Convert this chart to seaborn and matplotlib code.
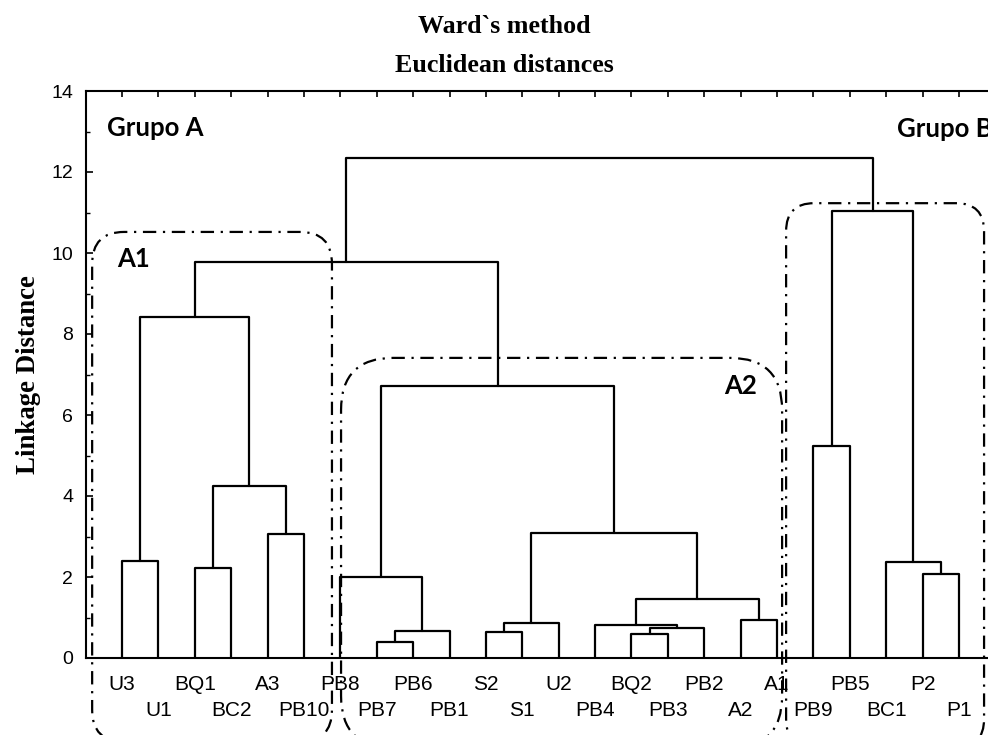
import numpy as np
import pandas as pd
import matplotlib
matplotlib.use("Agg")
import matplotlib.pyplot as plt
import seaborn as sns
from matplotlib.patches import FancyBboxPatch

# ---------------- data ----------------
leaves = ['U3', 'U1', 'BQ1', 'BC2', 'A3', 'PB10', 'PB8', 'PB7', 'PB6', 'PB1',
          'S2', 'S1', 'U2', 'PB4', 'BQ2', 'PB3', 'PB2', 'A2', 'A1',
          'PB9', 'PB5', 'BC1', 'P2', 'P1']
merge_left = ['U3', 'BQ1', 'A3', 'm1', 'm0', 'PB7', 'm5', 'PB8', 'S2', 'm8',
              'BQ2', 'm10', 'PB4', 'A2', 'm12', 'm9', 'm7', 'm4', 'PB9', 'P2',
              'BC1', 'm18', 'm17']
merge_right = ['U1', 'BC2', 'PB10', 'm2', 'm3', 'PB6', 'PB1', 'm6', 'S1', 'U2',
               'PB3', 'PB2', 'm11', 'A1', 'm13', 'm14', 'm15', 'm16', 'PB5', 'P1',
               'm19', 'm20', 'm21']
merge_height = [2.40, 2.22, 3.06, 4.25, 8.42, 0.40, 0.67, 2.00, 0.64, 0.86,
                0.59, 0.75, 0.81, 0.94, 1.46, 3.08, 6.72, 9.78, 5.23, 2.07,
                2.37, 11.04, 12.35]
y_ticks = [0, 2, 4, 6, 8, 10, 12, 14]

# ---------------- build dendrogram links ----------------
nodes = {name: (i + 1.0, 0.0) for i, name in enumerate(leaves)}
rows = []
for i, (l, r, h) in enumerate(zip(merge_left, merge_right, merge_height)):
    xl, hl = nodes[l]
    xr, hr = nodes[r]
    for px, py in [(xl, hl), (xl, h), (xr, h), (xr, hr)]:
        rows.append({"link": i, "x": px, "y": py})
    nodes[f"m{i}"] = ((xl + xr) / 2.0, h)
df = pd.DataFrame(rows)

# ---------------- figure ----------------
sns.set_style("white")
plt.rcParams["font.family"] = ["Liberation Sans", "DejaVu Sans"]
plt.rcParams["text.color"] = "black"
plt.rcParams["axes.labelcolor"] = "black"
plt.rcParams["xtick.color"] = "black"
plt.rcParams["ytick.color"] = "black"
plt.rcParams["axes.edgecolor"] = "black"

W, H = 988, 735
fig = plt.figure(figsize=(W / 100, H / 100), dpi=100)
ax_left, ax_bottom = 85.6, 77.0
unit_x, unit_y = 36.39, 40.5
ax = fig.add_axes([ax_left / W, ax_bottom / H, 25 * unit_x / W, 14 * unit_y / H])

sns.lineplot(data=df, x="x", y="y", units="link", estimator=None, sort=False,
             color="black", linewidth=1.6, ax=ax, legend=False)

ax.set_xlim(0, 25)
ax.set_ylim(0, 14)
ax.set_xlabel("")

# x ticks: two rows of labels
ax.set_xticks(np.arange(1, 25, 2))
ax.set_xticklabels(leaves[0::2])
ax.set_xticks(np.arange(2, 25, 2), minor=True)
ax.set_xticklabels(leaves[1::2], minor=True)
ax.tick_params(axis="x", which="both", bottom=False, top=True, direction="in",
               length=4, width=1.2, labelsize=15, colors="black")
ax.tick_params(axis="x", which="major", pad=12)
ax.tick_params(axis="x", which="minor", pad=31)

# y ticks
ax.set_yticks(y_ticks)
ax.set_yticks(np.arange(1, 14, 2), minor=True)
ax.tick_params(axis="y", which="major", left=True, right=False, direction="in",
               length=5, width=1.2, pad=9, labelsize=14, colors="black")
ax.tick_params(axis="y", which="minor", left=True, right=False, direction="in",
               length=3, width=1.0, colors="black")

for s in ["left", "top", "bottom"]:
    ax.spines[s].set_linewidth(1.5)
    ax.spines[s].set_color("black")
ax.spines["right"].set_visible(False)

ax.set_ylabel("Linkage Distance", fontfamily=["Liberation Serif"],
              fontweight="bold", fontsize=19.3, color="black")
ax.yaxis.set_label_coords((29 - ax_left) / (25 * unit_x), 0.5)
ax.yaxis.label.set_va("center")

# titles
fig.text(504 / W, 1 - 33 / H, "Ward`s method", ha="center", va="baseline",
         fontfamily=["Liberation Serif"], fontweight="bold", fontsize=18.7,
         color="black")
fig.text(504 / W, 1 - 72 / H, "Euclidean distances", ha="center", va="baseline",
         fontfamily=["Liberation Serif"], fontweight="bold", fontsize=18.7,
         color="black")

# group annotations
lab_font = dict(fontfamily=["Lato", "DejaVu Sans"], fontweight="bold",
                fontsize=18.5, va="baseline", ha="left", clip_on=False,
                color="black")
ax.text(0.59, 12.89, "Grupo A", **lab_font)
ax.text(22.30, 12.86, "Grupo B", **lab_font)
ax.text(0.86, 9.65, "A1", **lab_font)
ax.text(17.54, 6.52, "A2", **lab_font)

# dash-dot rounded cluster boxes
box_x0 = [0.18, 7.02, 19.25]
box_x1 = [6.77, 19.14, 24.69]
box_top = [10.52, 7.41, 11.23]
box_bottom = [-2.07, -2.22, -2.20]
box_radius_px = [32, 52, 28]
for x0, x1, yt, yb, r in zip(box_x0, box_x1, box_top, box_bottom, box_radius_px):
    (dx0, dy0), (dx1, dy1) = ax.transData.transform([(x0, yb), (x1, yt)])
    dpi = fig.dpi
    patch = FancyBboxPatch((dx0 / dpi, dy0 / dpi), (dx1 - dx0) / dpi, (dy1 - dy0) / dpi,
                           boxstyle=f"round,pad=0,rounding_size={r / dpi}",
                           transform=fig.dpi_scale_trans, fill=False,
                           linestyle=(0, (6, 3, 1, 3)), linewidth=1.6,
                           edgecolor="black", clip_on=False)
    fig.add_artist(patch)

fig.savefig("out.png", dpi=100, facecolor="white")
